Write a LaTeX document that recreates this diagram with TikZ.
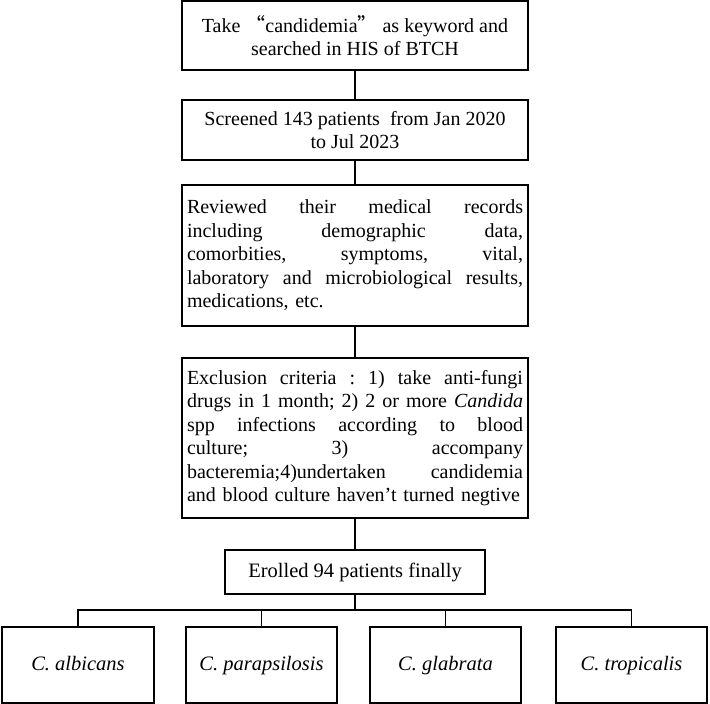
\documentclass[tikz,border=0pt]{standalone}
\usepackage{fontspec}
\setmainfont{Liberation Serif}
\newfontfamily\cjkq{Noto Sans CJK SC}
\newcommand{\jline}[1]{{\spaceskip=0.25em plus 20em minus 0.05em\xspaceskip=\spaceskip\makebox[336pt][s]{#1}}}
\frenchspacing
\begin{document}
\begin{tikzpicture}[x=1pt,y=-1pt]
\tikzset{
  box/.style={draw, line width=1.8pt, inner sep=0pt, align=center,
    font=\fontsize{20}{23.5}\selectfont},
  onel/.style={text height=14.5pt, text depth=4.5pt},
  spbox/.style={box, onel, minimum width=151pt, minimum height=76pt,
    font=\fontsize{20.5}{23.5}\selectfont\itshape},
  conn/.style={line width=1.8pt}
}
\useasboundingbox (0,0) rectangle (710,704);
\node[box, minimum width=346pt, minimum height=69pt] (b1) at (355,35.5)
  {Take {\cjkq “}candidemia{\cjkq ”} as keyword and\\searched in HIS of BTCH};
\node[box, minimum width=346pt, minimum height=60pt] (b2) at (355,130)
  {Screened 143 patients\ \ from Jan 2020\\to Jul 2023};
\node[box, minimum width=346pt, minimum height=141pt, text width=336pt, align=left] (b3) at (355,255.5)
  {\jline{Reviewed their medical records}\\
   \jline{including demographic data,}\\
   \jline{comorbities, symptoms, vital,}\\
   \jline{laboratory and microbiological results,}\\
   medications,\ etc.};
\node[box, minimum width=346pt, minimum height=160pt, text width=336pt, align=left] (b4) at (355,438)
  {\jline{Exclusion criteria : 1) take anti-fungi}\\
   \jline{drugs in 1 month; 2) 2 or more \textit{Candida}}\\
   \jline{spp infections according to blood}\\
   \jline{culture; 3) accompany}\\
   \jline{bacteremia;4)undertaken candidemia}\\
   \mbox{and blood culture haven’t turned negtive}};
\node[box, onel, minimum width=260pt, minimum height=44pt, font=\fontsize{20.5}{23.5}\selectfont] (e) at (355,572) {Erolled 94 patients finally};
\node[spbox, minimum width=152pt] (c1) at (78,665) {C. albicans};
\node[spbox] (c2) at (261.5,665) {C. parapsilosis};
\node[spbox] (c3) at (445.5,665) {C. glabrata};
\node[spbox] (c4) at (631.5,665) {C. tropicalis};
\coordinate (bus) at (355,610);
\draw[conn] (b1) -- (b2);
\draw[conn] (b2) -- (b3);
\draw[conn] (b3) -- (b4);
\draw[conn] (b4) -- (e);
\draw[conn] (e) -- (bus);
\draw[conn] (c1.north) |- (bus) -| (c4.north);
\draw[conn] (c2.north) -- (c2.north |- bus);
\draw[conn] (c3.north) -- (c3.north |- bus);
\end{tikzpicture}
\end{document}
